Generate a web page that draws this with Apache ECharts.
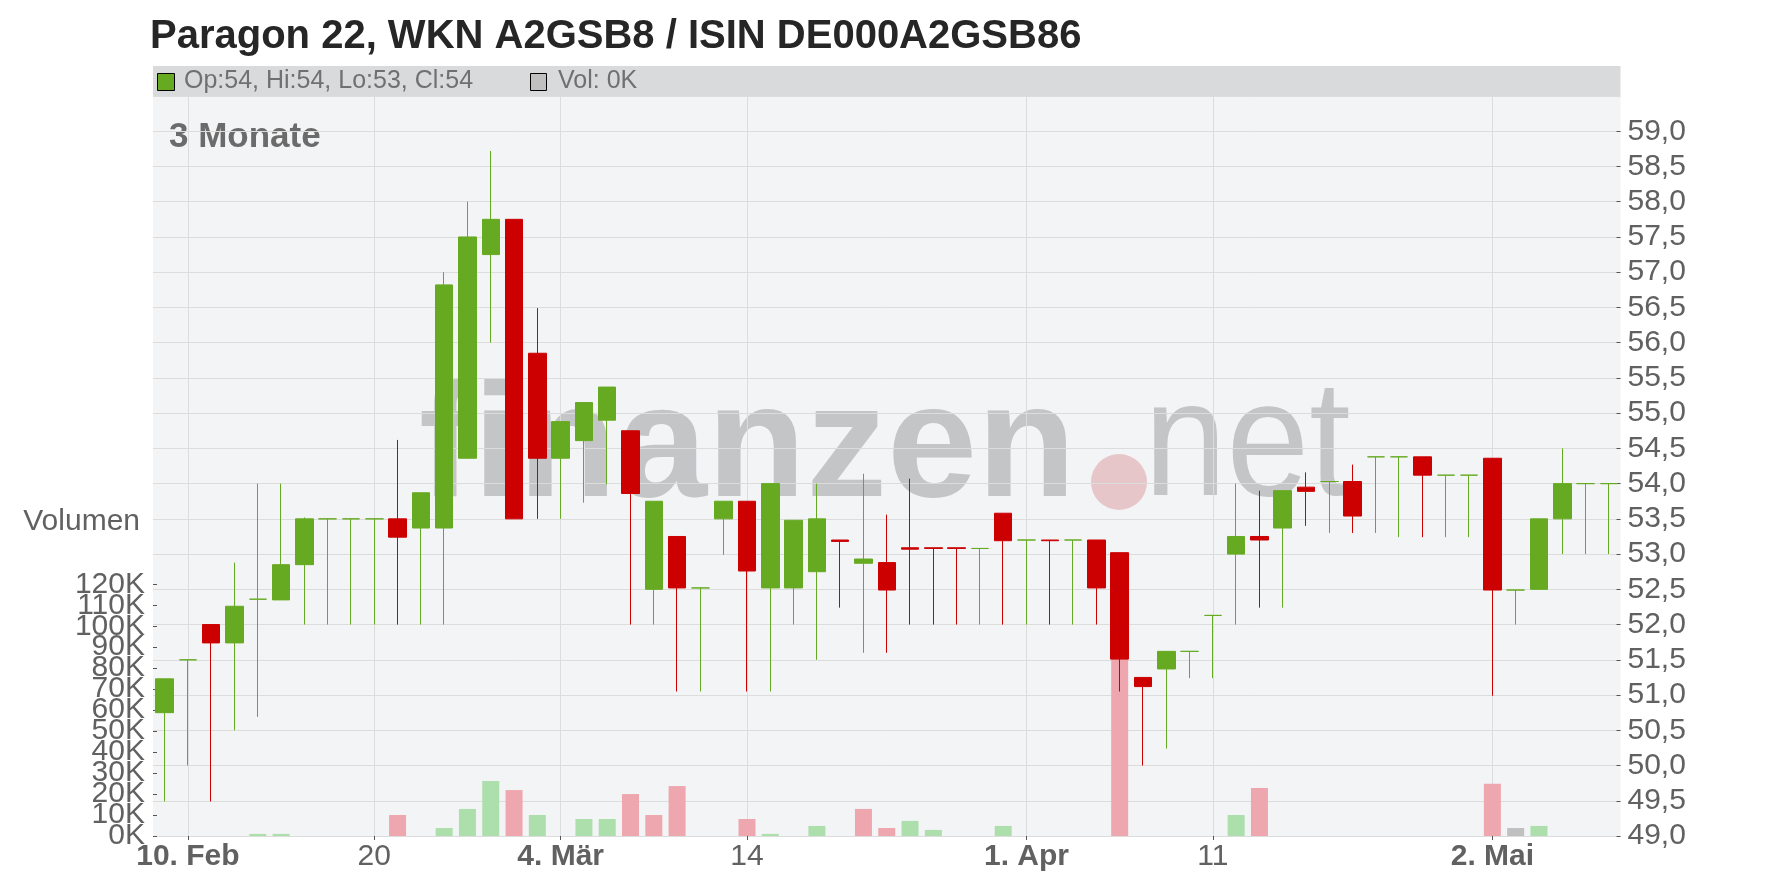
<!DOCTYPE html>
<html>
<head>
<meta charset="utf-8">
<script src="https://cdn.jsdelivr.net/npm/echarts@6/dist/echarts.min.js"></script>
<style>
  html, body { margin: 0; padding: 0; background: #fff; }
  #chart { width: 1776px; height: 888px; }
</style>
</head>
<body>
<div id="chart"></div>
<script>
// Handelstage (Kategorien)
const dates = [
  "2025-02-07",
  "2025-02-10", "2025-02-11", "2025-02-12", "2025-02-13", "2025-02-14",
  "2025-02-17", "2025-02-18", "2025-02-19", "2025-02-20", "2025-02-21",
  "2025-02-24", "2025-02-25", "2025-02-26", "2025-02-27", "2025-02-28",
  "2025-03-03", "2025-03-04", "2025-03-05", "2025-03-06", "2025-03-07",
  "2025-03-10", "2025-03-11", "2025-03-12", "2025-03-13", "2025-03-14",
  "2025-03-17", "2025-03-18", "2025-03-19", "2025-03-20", "2025-03-21",
  "2025-03-24", "2025-03-25", "2025-03-26", "2025-03-27", "2025-03-28",
  "2025-03-31", "2025-04-01", "2025-04-02", "2025-04-03", "2025-04-04",
  "2025-04-07", "2025-04-08", "2025-04-09", "2025-04-10", "2025-04-11",
  "2025-04-14", "2025-04-15", "2025-04-16", "2025-04-17",
  "2025-04-22", "2025-04-23", "2025-04-24", "2025-04-25",
  "2025-04-28", "2025-04-29", "2025-04-30",
  "2025-05-02",
  "2025-05-05", "2025-05-06", "2025-05-07", "2025-05-08", "2025-05-09"
];

const openPrices = [
  50.75, 51.5, 52.0, 51.74, 52.36, 52.35, 52.85, 53.5, 53.5, 53.5,
  53.5, 53.37, 53.37, 54.36, 57.25, 57.75, 55.85, 54.36, 54.61, 54.9,
  54.75, 52.5, 53.25, 52.52, 53.5, 53.75, 52.52, 52.52, 52.75, 53.2,
  52.87, 52.88, 53.09, 53.09, 53.09, 53.08, 53.58, 53.2, 53.2, 53.2,
  53.2, 53.02, 51.25, 51.37, 51.62, 52.13, 53.0, 53.25, 53.37, 53.95,
  54.03, 54.03, 54.38, 54.38, 54.38, 54.12, 54.12, 54.36, 52.49, 52.5,
  53.5, 54.0, 54.0
];
const closePrices = [
  51.23, 51.5, 51.74, 52.26, 52.36, 52.85, 53.5, 53.5, 53.5, 53.5,
  53.24, 53.87, 56.82, 57.5, 57.75, 53.5, 54.36, 54.88, 55.15, 55.37,
  53.86, 53.75, 52.52, 52.52, 53.75, 52.76, 54.0, 53.48, 53.5, 53.18,
  52.93, 52.49, 53.07, 53.08, 53.08, 53.08, 53.19, 53.2, 53.19, 53.2,
  52.52, 51.51, 51.12, 51.62, 51.62, 52.13, 53.25, 53.2, 53.9, 53.89,
  54.03, 53.54, 54.38, 54.38, 54.12, 54.12, 54.12, 52.49, 52.49, 53.5,
  54.0, 54.0, 54.0
];
const lowPrices = [
  49.49, 50.0, 49.49, 50.5, 50.69, 52.35, 52.0, 52.0, 52.0, 52.0,
  52.0, 52.0, 52.0, 54.36, 56.0, 53.5, 53.5, 53.5, 53.73, 53.99,
  52.0, 52.0, 51.05, 51.05, 52.99, 51.05, 51.05, 52.0, 51.5, 52.24,
  51.6, 51.6, 52.0, 52.0, 52.0, 52.0, 52.0, 52.0, 52.0, 52.0,
  52.0, 51.05, 50.0, 50.24, 51.24, 51.24, 52.0, 52.24, 52.24, 53.4,
  53.3, 53.3, 53.3, 53.24, 53.24, 53.24, 53.24, 50.99, 52.0, 52.5,
  53.0, 53.0, 53.0
];
const highPrices = [
  51.23, 51.5, 52.0, 52.88, 54.0, 54.0, 53.52, 53.5, 53.5, 53.5,
  54.62, 53.87, 57.0, 58.0, 58.72, 57.75, 56.49, 54.88, 55.15, 55.37,
  54.75, 53.75, 53.25, 52.52, 53.75, 53.75, 54.0, 53.48, 54.0, 53.2,
  54.14, 53.56, 54.07, 53.09, 53.09, 53.08, 53.58, 53.2, 53.2, 53.2,
  53.2, 53.02, 51.25, 51.62, 51.62, 52.13, 54.0, 53.9, 53.9, 54.16,
  54.03, 54.27, 54.38, 54.38, 54.38, 54.12, 54.12, 54.36, 52.49, 53.5,
  54.5, 54.0, 54.0
];
const volumes = [
  0, 0, 0, 0, 1000, 1000, 0, 0, 0, 0,
  10000, 0, 3800, 12900, 26200, 21900, 10000, 0, 8100, 8100,
  20000, 10000, 23800, 0, 0, 8100, 1000, 0, 4800, 0,
  12900, 3800, 7200, 2900, 0, 0, 4800, 0, 0, 0,
  0, 85000, 0, 0, 0, 0, 10000, 22900, 0, 0,
  0, 0, 0, 0, 0, 0, 0, 24900, 3800, 4800,
  0, 0, 0
];

// Beschriftete Tage der Zeitachse
const tickDates = ["2025-02-10", "2025-02-20", "2025-03-04", "2025-03-14", "2025-04-01", "2025-04-11", "2025-05-02"];
const tickTexts = ["10. Feb", "20", "4. Mär", "14", "1. Apr", "11", "2. Mai"];
const tickBold = [true, false, true, false, true, false, true];

// Volumenachse: 0K bis 120K
const volumeTicks = [0, 10000, 20000, 30000, 40000, 50000, 60000, 70000, 80000, 90000, 100000, 110000, 120000];

const FONT = "'Liberation Sans', Arial, sans-serif";
const UP = "#66aa22";
const DOWN = "#cc0000";
const VOL_UP = "#acdfac";
const VOL_DOWN = "#eea7ae";
const VOL_FLAT = "#c0c0c0";
const LABEL = "#616161";

const candleColor = (i) => {
  if (closePrices[i] > openPrices[i]) return UP;
  if (closePrices[i] < openPrices[i]) return DOWN;
  return i > 0 && closePrices[i - 1] > closePrices[i] ? DOWN : UP;
};
const volColor = (i) => {
  if (i === 0) return VOL_UP;
  const d = closePrices[i] - closePrices[i - 1];
  return d > 0 ? VOL_UP : d < 0 ? VOL_DOWN : VOL_FLAT;
};

const candleData = dates.map((d, i) => {
  const c = candleColor(i);
  return {
    value: [openPrices[i], closePrices[i], lowPrices[i], highPrices[i]],
    itemStyle: { color: c, color0: c, borderColor: c, borderColor0: c, borderColorDoji: c }
  };
});
const volData = dates.map((d, i) => ({
  value: volumes[i],
  itemStyle: { color: volColor(i) }
}));

const isTick = (idx, value) => tickDates.indexOf(value !== undefined ? value : dates[idx]) >= 0;

const last = dates.length - 1;
const legendText = "Op:" + Math.round(openPrices[last]) + ", Hi:" + Math.round(highPrices[last]) +
  ", Lo:" + Math.round(lowPrices[last]) + ", Cl:" + Math.round(closePrices[last]);
const volText = "Vol: " + Math.round(volumes[last] / 1000) + "K";

const chart = echarts.init(document.getElementById("chart"));

const option = {
  animation: false,
  backgroundColor: "#ffffff",
  textStyle: { fontFamily: FONT },
  grid: [
    { left: 153, right: 155.5, top: 96, bottom: 52, outerBoundsMode: "none" },
    { left: 153, right: 155.5, top: 584.3, bottom: 52, outerBoundsMode: "none" }
  ],
  xAxis: [
    {
      type: "category",
      gridIndex: 0,
      data: dates,
      boundaryGap: true,
      axisLine: { show: false },
      axisTick: {
        show: true, alignWithLabel: true, interval: isTick, length: 4,
        lineStyle: { color: "#555" }
      },
      splitLine: {
        show: true, alignWithLabel: true, interval: isTick,
        lineStyle: { color: "#dcdcdc", width: 1 }
      },
      axisLabel: {
        interval: isTick,
        margin: 6,
        fontSize: 30,
        color: LABEL,
        fontFamily: FONT,
        formatter: (value) => {
          const k = tickDates.indexOf(value);
          if (k < 0) return "";
          return tickBold[k] ? "{b|" + tickTexts[k] + "}" : "{n|" + tickTexts[k] + "}";
        },
        rich: {
          b: { fontSize: 30, fontWeight: "bold", color: LABEL, fontFamily: FONT },
          n: { fontSize: 30, color: LABEL, fontFamily: FONT }
        }
      }
    },
    {
      type: "category",
      gridIndex: 1,
      data: dates,
      boundaryGap: true,
      show: false
    }
  ],
  yAxis: [
    {
      type: "value",
      gridIndex: 0,
      position: "right",
      min: 49,
      max: 59.5,
      interval: 0.5,
      axisLine: { show: false },
      axisTick: { show: true, inside: true, length: 4, lineStyle: { color: "#555" } },
      splitLine: { show: true, lineStyle: { color: "#dcdcdc", width: 1 } },
      axisLabel: {
        showMinLabel: true,
        showMaxLabel: false,
        margin: 7,
        fontSize: 30,
        color: LABEL,
        fontFamily: FONT,
        formatter: (v) => v.toFixed(1).replace(".", ",")
      }
    },
    {
      // Skala der Volumenbalken
      type: "value",
      gridIndex: 1,
      min: volumeTicks[0],
      max: volumeTicks[volumeTicks.length - 1],
      show: false,
      splitLine: { show: false }
    },
    {
      // Beschriftung der Volumenachse (alle Labels sichtbar, auch überlappend)
      type: "category",
      gridIndex: 1,
      position: "left",
      boundaryGap: false,
      data: volumeTicks.map((v) => Math.round(v / 1000) + "K"),
      axisLine: { show: false },
      axisTick: { show: true, inside: true, interval: 0, length: 4, lineStyle: { color: "#555" } },
      splitLine: { show: false },
      axisLabel: {
        interval: 0,
        margin: 8,
        fontSize: 30,
        color: LABEL,
        fontFamily: FONT
      }
    }
  ],
  graphic: [
    { type: "rect", z: -10, silent: true, shape: { x: 153, y: 96, width: 1467.5, height: 740 }, style: { fill: "#f3f4f6" } },
    { type: "rect", z: -10, silent: true, shape: { x: 153, y: 66, width: 1467.5, height: 30 }, style: { fill: "#d9dadb" } },
    // Wasserzeichen
    { type: "text", z: -5, silent: true, x: 419, y: 451, style: { text: "finanzen", font: "bold 162px " + FONT, fill: "#c4c5c7", align: "left", verticalAlign: "middle" } },
    { type: "circle", z: -5, silent: true, shape: { cx: 1119, cy: 482, r: 28 }, style: { fill: "#e7c6ca" } },
    { type: "text", z: -5, silent: true, x: 1144, y: 449.5, scaleX: 0.9, style: { text: "net", font: "165px " + FONT, fill: "#c4c5c7", align: "left", verticalAlign: "middle" } },
    // Titel und Kopfzeile
    { type: "text", silent: true, x: 150, y: 36.5, style: { text: "Paragon 22, WKN A2GSB8 / ISIN DE000A2GSB86", font: "bold 40px " + FONT, fill: "#262626", align: "left", verticalAlign: "middle" } },
    { type: "rect", silent: true, shape: { x: 157.5, y: 73.5, width: 17, height: 17 }, style: { fill: UP, stroke: "#000", lineWidth: 1 } },
    { type: "text", silent: true, x: 184, y: 81.5, style: { text: legendText, font: "25px " + FONT, fill: "#707070", align: "left", verticalAlign: "middle" } },
    { type: "rect", silent: true, shape: { x: 530.5, y: 73.5, width: 16, height: 17 }, style: { fill: VOL_FLAT, stroke: "#000", lineWidth: 1 } },
    { type: "text", silent: true, x: 558, y: 81.5, style: { text: volText, font: "25px " + FONT, fill: "#707070", align: "left", verticalAlign: "middle" } },
    { type: "text", silent: true, x: 169, y: 137, style: { text: "3 Monate", font: "bold 35px " + FONT, fill: "#6b6b6b", align: "left", verticalAlign: "middle" } },
    { type: "text", silent: true, x: 140, y: 521.5, style: { text: "Volumen", font: "30px " + FONT, fill: LABEL, align: "right", verticalAlign: "middle" } }
  ],
  series: [
    {
      name: "Volumen",
      type: "bar",
      xAxisIndex: 1,
      yAxisIndex: 1,
      barWidth: 17,
      z: 1,
      data: volData
    },
    {
      name: "Kurs",
      type: "candlestick",
      xAxisIndex: 0,
      yAxisIndex: 0,
      barWidth: 18,
      z: 3,
      itemStyle: { borderWidth: 1 },
      data: candleData
    }
  ]
};

chart.setOption(option);
window.onresize = function () {
  chart.resize();
};
</script>
</body>
</html>
